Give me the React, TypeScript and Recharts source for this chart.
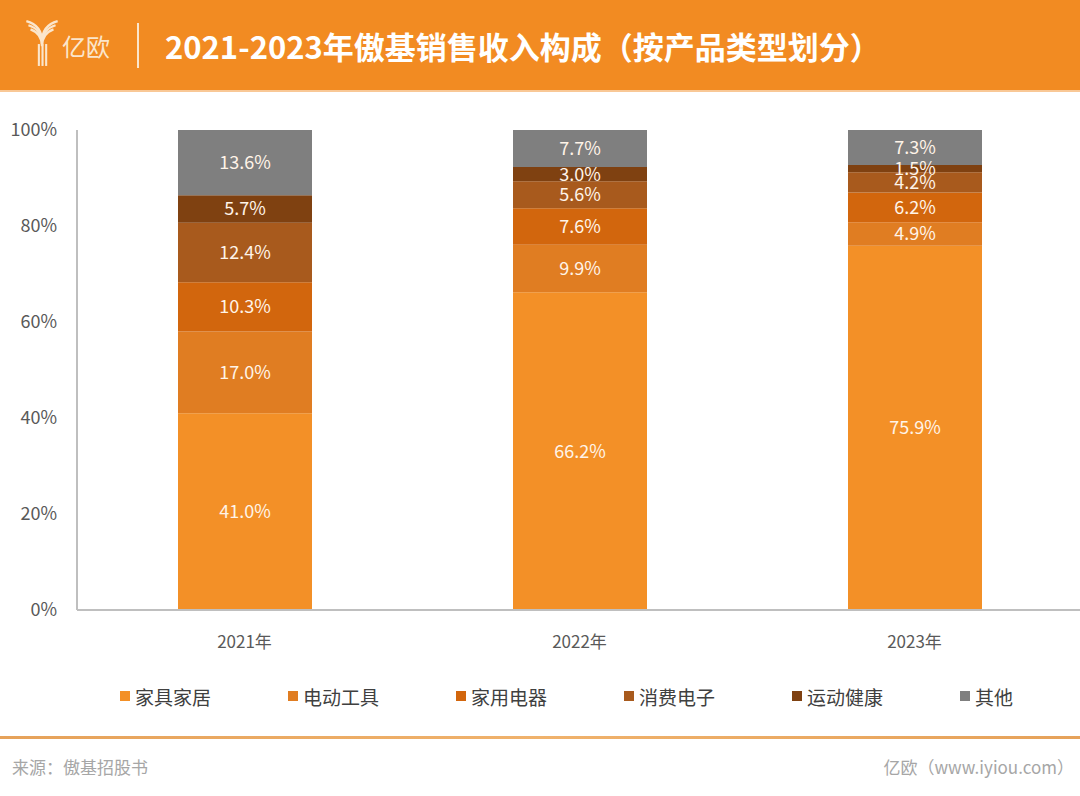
import React from "react";
import { BarChart, Bar, XAxis, YAxis, Legend, LabelList } from "recharts";

// 2021-2023 revenue mix by product type (%)
const years = ["2021年", "2022年", "2023年"];
const furniture = [41.0, 66.2, 75.9];
const powerTools = [17.0, 9.9, 4.9];
const appliances = [10.3, 7.6, 6.2];
const electronics = [12.4, 5.6, 4.2];
const sports = [5.7, 3.0, 1.5];
const others = [13.6, 7.7, 7.3];
const seriesNames = ["家具家居", "电动工具", "家用电器", "消费电子", "运动健康", "其他"];
const seriesColors = ["#F39027", "#E07D22", "#D2660D", "#A85A1D", "#7F4111", "#7F7F7F"];
const yTicks = [0, 20, 40, 60, 80, 100];

const seriesValues = [furniture, powerTools, appliances, electronics, sports, others];

const data = years.map((year, i) => {
  const row: Record<string, string | number> = { year };
  seriesNames.forEach((name, s) => {
    row[name] = seriesValues[s][i];
  });
  return row;
});

const FONT = '"Noto Sans CJK SC", "Noto Sans", sans-serif';

function LegendContent() {
  return (
    <div style={{ position: "relative", width: 1080, height: 32 }}>
      {seriesNames.map((name, i) => (
        <div
          key={name}
          style={{
            position: "absolute",
            left: 120 + i * 168,
            top: 0,
            height: 32,
            display: "flex",
            alignItems: "center",
            fontSize: 19,
            color: "#404040",
          }}
        >
          <span style={{ display: "inline-block", width: 10, height: 10, background: seriesColors[i], marginRight: 5 }} />
          {name}
        </div>
      ))}
    </div>
  );
}

function Logo() {
  return (
    <svg width={36} height={48} viewBox="0 0 34 46" style={{ position: "absolute", left: 24, top: 19 }}>
      {[0, 4, 8].map((d) => (
        <path
          key={d}
          d={`M${2 + d / 2} ${2 + d} Q17 ${6 + d} 17 ${22 + d / 2} Q17 ${6 + d} ${32 - d / 2} ${2 + d}`}
          fill="none"
          stroke="#FBE6CC"
          strokeWidth={2.2}
        />
      ))}
      <rect x={13} y={24} width={2} height={21} fill="#FBE6CC" />
      <rect x={16.5} y={24} width={2} height={21} fill="#FBE6CC" />
      <rect x={20} y={24} width={2} height={21} fill="#FBE6CC" />
    </svg>
  );
}

export default function App() {
  return (
    <div
      style={{
        position: "absolute",
        left: 0,
        top: 0,
        width: 1080,
        height: 796,
        overflow: "hidden",
        background: "#FFFFFF",
        fontFamily: FONT,
      }}
    >
      {/* header */}
      <div style={{ position: "absolute", left: 0, top: 0, width: 1080, height: 90, background: "#F28B22" }}>
        <Logo />
        <div style={{ position: "absolute", left: 62, top: 30, fontSize: 24, color: "#FBE6CC", lineHeight: "32px" }}>
          亿欧
        </div>
        <div style={{ position: "absolute", left: 137, top: 23, width: 2, height: 45, background: "#FBE6CC" }} />
        <div
          style={{
            position: "absolute",
            left: 165,
            top: 25,
            fontSize: 31,
            fontWeight: 700,
            color: "#FFFFFF",
            lineHeight: "42px",
            whiteSpace: "nowrap",
          }}
        >
          2021-2023年傲基销售收入构成（按产品类型划分）
        </div>
      </div>
      <div style={{ position: "absolute", left: 0, top: 90, width: 1080, height: 2, background: "#F9C896" }} />

      {/* chart */}
      <div style={{ position: "absolute", left: 0, top: 100 }}>
        <BarChart
          width={1090}
          height={620}
          data={data}
          margin={{ top: 30, right: 8, bottom: 8, left: 17 }}
          barSize={134}
        >
          <XAxis
            dataKey="year"
            axisLine={{ stroke: "#BFBFBF", strokeWidth: 2 }}
            tickLine={false}
            tick={{ fill: "#595959", fontSize: 17 }}
            tickMargin={20}
            height={70}
          />
          <YAxis
            domain={[0, 100]}
            ticks={yTicks}
            tickFormatter={(v: number) => `${v}%`}
            axisLine={{ stroke: "#BFBFBF", strokeWidth: 2 }}
            tickLine={false}
            tick={{ fill: "#595959", fontSize: 18 }}
            tickMargin={14}
            width={60}
          />
          <Legend
            verticalAlign="bottom"
            content={() => <LegendContent />}
            wrapperStyle={{ left: 0, width: 1080, height: 32 }}
          />
          {seriesNames.map((name, i) => (
            <Bar key={name} dataKey={name} stackId="mix" fill={seriesColors[i]} isAnimationActive={false}>
              <LabelList
                dataKey={name}
                position="center"
                fill="#FFF4E8"
                fontSize={18}
                formatter={(v: any) => `${Number(v).toFixed(1)}%`}
              />
            </Bar>
          ))}
        </BarChart>
      </div>

      {/* footer */}
      <div
        style={{
          position: "absolute",
          left: 0,
          top: 736,
          width: 1080,
          height: 3,
          background: "linear-gradient(90deg, #E6A25A, #F0B26C, #E6A25A)",
        }}
      />
      <div style={{ position: "absolute", left: 12, top: 753, fontSize: 17, color: "#A6A6A6", lineHeight: "28px" }}>
        来源：傲基招股书
      </div>
      <div
        style={{
          position: "absolute",
          right: 6,
          top: 753,
          fontSize: 17,
          color: "#A6A6A6",
          lineHeight: "28px",
          whiteSpace: "nowrap",
        }}
      >
        亿欧（www.iyiou.com）
      </div>
    </div>
  );
}
